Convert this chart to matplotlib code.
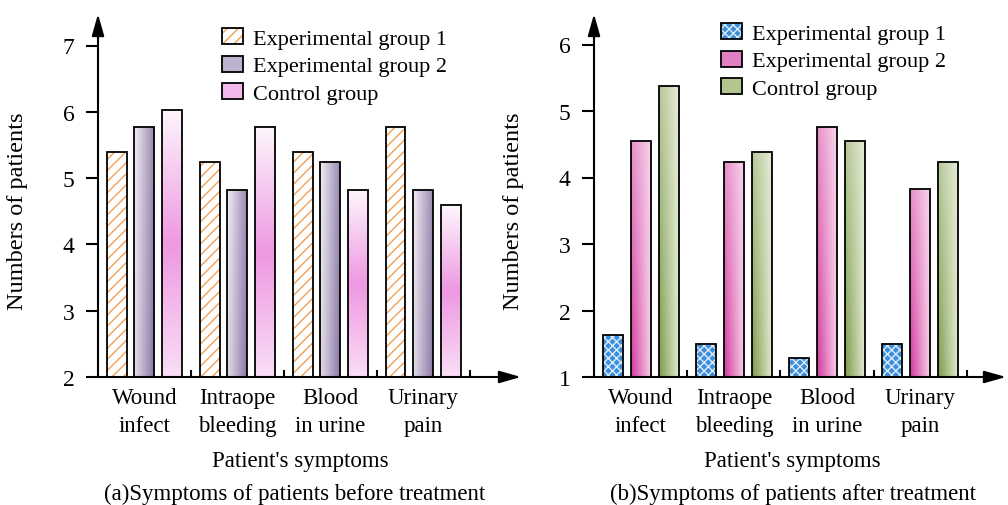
import numpy as np
import matplotlib
matplotlib.use("Agg")
import matplotlib.pyplot as plt
from matplotlib.patches import Patch
from matplotlib.legend_handler import HandlerTuple
from matplotlib.colors import to_rgb

plt.rcParams['font.family'] = ['Liberation Serif', 'DejaVu Serif']
plt.rcParams['hatch.linewidth'] = 1.0

# data
symptoms = ["Wound\ninfect", "Intraope\nbleeding", "Blood\nin urine", "Urinary\npain"]
groups = ["Experimental group 1", "Experimental group 2", "Control group"]

before_exp1 = [5.39, 5.24, 5.39, 5.77]
before_exp2 = [5.77, 4.82, 5.24, 4.82]
before_ctrl = [6.03, 5.77, 4.82, 4.59]

after_exp1 = [1.63, 1.50, 1.28, 1.50]
after_exp2 = [4.55, 4.23, 4.76, 3.82]
after_ctrl = [5.38, 4.38, 4.55, 4.23]

FS = 16.5
W = 0.215
OFF = 0.3


def gradient(ax, bars, mode, c_dark, c_light):
    dark = np.array(to_rgb(c_dark))
    light = np.array(to_rgb(c_light))
    n = 64
    xx, yy = np.meshgrid(np.linspace(0, 1, n), np.linspace(0, 1, n))
    if mode == "right_dark":
        v = 0.85 * xx + 0.15 * (1 - yy)
    elif mode == "left_dark":
        v = (1 - xx) * (1 - 0.55 * yy)
    else:
        # vertical: light top, strong middle, pale bottom
        v = np.where(yy > 0.5, 1 - (yy - 0.5) / 0.5, 0.25 + 0.75 * yy / 0.5)
    v = np.clip(v, 0, 1)[..., None]
    img = light + (dark - light) * v
    for b in bars:
        x, y, w, h = b.get_x(), b.get_y(), b.get_width(), b.get_height()
        im = ax.imshow(img, extent=[x, x + w, y, y + h], origin="lower",
                       aspect="auto", interpolation="bilinear", zorder=2)
        im.set_clip_path(b)


def hatched(ax, x, vals, base, face, hcol, hatch):
    ax.bar(x, np.array(vals) - base, W, bottom=base, color=face,
           edgecolor=hcol, hatch=hatch, linewidth=0, zorder=2)
    ax.bar(x, np.array(vals) - base, W, bottom=base, color="none",
           edgecolor="black", linewidth=1.3, zorder=3)


def grad_bars(ax, x, vals, base, mode, dark, light):
    bars = ax.bar(x, np.array(vals) - base, W, bottom=base, color="none",
                  edgecolor="black", linewidth=1.3, zorder=3)
    gradient(ax, bars, mode, dark, light)


def style_axis(ax, ymin, ymax, xmax):
    ax.set_xlim(0, xmax)
    ax.set_ylim(ymin, ymax)
    for s in ax.spines.values():
        s.set_visible(False)
    arrow = dict(arrowstyle="-|>,head_length=0.6,head_width=0.17", color="black",
                 lw=1.5, mutation_scale=22, shrinkA=0, shrinkB=0)
    ax.annotate("", xy=(1, 0), xytext=(0, 0), xycoords="axes fraction",
                arrowprops=arrow, annotation_clip=False)
    ax.annotate("", xy=(0, 1), xytext=(0, 0), xycoords="axes fraction",
                arrowprops=arrow, annotation_clip=False)
    ax.set_yticks(np.arange(ymin, int(ymax) + 1))
    ax.tick_params(axis="y", direction="out", length=9, width=1.5,
                   labelsize=17, pad=8)
    ax.set_xticks(np.arange(len(symptoms)) + 0.5)
    ax.set_xticklabels(symptoms, fontsize=FS, linespacing=1.45)
    ax.tick_params(axis="x", length=0, pad=7)
    ax.set_xticks(np.arange(1, len(symptoms) + 1), minor=True)
    ax.tick_params(axis="x", which="minor", direction="in", length=5, width=1.5)


fig = plt.figure(figsize=(10.08, 5.06), dpi=100)
ax1 = fig.add_axes([98 / 1008, 1 - 378 / 506, (521 - 98) / 1008, (378 - 15) / 506])
ax2 = fig.add_axes([594 / 1008, 1 - 378 / 506, (1006 - 594) / 1008, (378 - 15) / 506])

xc = np.arange(len(symptoms)) + 0.5

# (a) before treatment
hatched(ax1, xc - OFF, before_exp1, 2, "white", "#f2a057", "///")
grad_bars(ax1, xc, before_exp2, 2, "right_dark", "#8d7aa6", "#f1eef4")
grad_bars(ax1, xc + OFF, before_ctrl, 2, "vertical", "#ee98e2", "#fdf5fc")
style_axis(ax1, 2, 2 + 363 / 66.3, 4.55)

# (b) after treatment
hatched(ax2, xc - OFF, after_exp1, 1, "#3d8edb", "#dcecfa", "xxxx")
grad_bars(ax2, xc, after_exp2, 1, "left_dark", "#d2399d", "#f8d6ec")
grad_bars(ax2, xc + OFF, after_ctrl, 1, "left_dark", "#7d9a49", "#e6edd8")
style_axis(ax2, 1, 1 + 363 / 66.5, 4.42)

leg_kw = dict(loc="upper left", frameon=False, fontsize=16, handlelength=0.95,
              handleheight=0.75, handletextpad=0.45, labelspacing=0.3,
              borderpad=0, borderaxespad=0, bbox_transform=fig.transFigure,
              handler_map={tuple: HandlerTuple(ndivide=1)})
outline = dict(facecolor="none", edgecolor="black", lw=1.3)
h1 = [(Patch(facecolor="white", edgecolor="#f2a057", hatch="///", lw=0), Patch(**outline)),
      (Patch(facecolor="#bcb2cc", lw=0), Patch(**outline)),
      (Patch(facecolor="#f3b9ec", lw=0), Patch(**outline))]
ax1.legend(h1, groups, bbox_to_anchor=(222 / 1008, 1 - 29 / 506), **leg_kw)
h2 = [(Patch(facecolor="#3d8edb", edgecolor="#dcecfa", hatch="xxxx", lw=0), Patch(**outline)),
      (Patch(facecolor="#e27fc3", lw=0), Patch(**outline)),
      (Patch(facecolor="#b4c690", lw=0), Patch(**outline))]
ax2.legend(h2, groups, bbox_to_anchor=(721 / 1008, 1 - 24 / 506), **leg_kw)

for xl, xcap, cap in [(300, 295, "(a)Symptoms of patients before treatment"),
                      (792, 793, "(b)Symptoms of patients after treatment")]:
    fig.text(xl / 1008, 1 - 462 / 506, "Patient's symptoms", fontsize=FS,
             ha="center", va="center")
    fig.text(xcap / 1008, 1 - 494 / 506, cap, fontsize=FS,
             ha="center", va="center")
fig.text(18 / 1008, 1 - 211 / 506, "Numbers of patients", fontsize=17.5,
         rotation=90, ha="center", va="center")
fig.text(514 / 1008, 1 - 211 / 506, "Numbers of patients", fontsize=17.5,
         rotation=90, ha="center", va="center")

fig.savefig("out.png", dpi=100)
